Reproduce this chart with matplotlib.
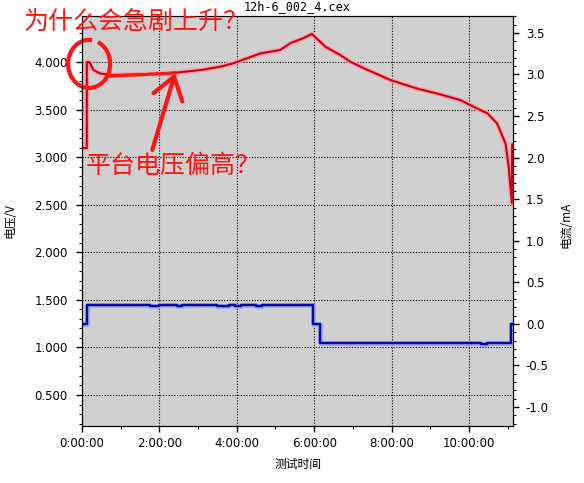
import matplotlib
matplotlib.use("Agg")
import matplotlib.pyplot as plt
from matplotlib.patches import Arc
from matplotlib.ticker import MultipleLocator, FuncFormatter

# voltage curve (left axis), time in hours
volt_t = [0.0, 0.13, 0.13, 0.2, 0.3, 0.47, 0.73, 1.5, 2.49, 3.06, 3.57, 3.91,
          4.61, 5.12, 5.38, 5.72, 5.94, 6.29, 6.67, 6.93, 7.36, 7.97, 8.66,
          9.25, 9.77, 10.11, 10.47, 10.72, 10.88, 10.94, 11.02, 11.10, 11.11]
volt_v = [3.095, 3.095, 4.0, 3.997, 3.916, 3.88, 3.863, 3.87, 3.89, 3.915, 3.95,
          3.986, 4.09, 4.126, 4.197, 4.25, 4.295, 4.16, 4.074, 4.003, 3.92,
          3.81, 3.72, 3.66, 3.6, 3.53, 3.46, 3.355, 3.2, 3.14, 2.9, 2.52, 3.13]

# current curve (right axis), step data
cur_t = [0.0, 0.13, 1.75, 2.0, 2.45, 2.6, 3.5, 3.8, 3.95, 4.1, 4.5, 4.65,
         5.05, 5.4, 5.96, 6.16, 10.3, 10.45, 11.09, 11.14]
cur_i = [0.0, 0.23, 0.22, 0.23, 0.22, 0.23, 0.22, 0.23, 0.22, 0.23, 0.22, 0.23,
         0.222, 0.23, 0.0, -0.23, -0.24, -0.23, 0.0, 0.0]

title = "12h-6_002_4.cex"
x_label = "测试时间"
left_label = "电压/V"
right_label = "电流/mA"
note_top = "为什么会急剧上升？"
note_mid = "平台电压偏高？"

cjk = ["Noto Sans CJK SC", "DejaVu Sans"]


def fmt_time(x, pos):
    return "%d:00:00" % int(round(x))


fig = plt.figure(figsize=(5.84, 4.83), dpi=100)
ax = fig.add_axes([0.14, 0.118, 0.739, 0.849])
ax.set_facecolor("#d0d0d0")
ax2 = ax.twinx()

# data
ax.plot(volt_t, volt_v, color="#ffa0a0", lw=3.4, solid_joinstyle="round")
ax.plot(volt_t, volt_v, color="#c8001e", lw=1.5, solid_joinstyle="round")
ax2.plot(cur_t, cur_i, color="#9aa0f0", lw=3.4, drawstyle="steps-post")
ax2.plot(cur_t, cur_i, color="#0a0aa0", lw=1.7, drawstyle="steps-post")

ax.set_xlim(0, 11.14)
ax.set_ylim(0.174, 4.484)
ax2.set_ylim(-1.228, 3.704)

ax.xaxis.set_major_locator(MultipleLocator(2))
ax.xaxis.set_minor_locator(MultipleLocator(1))
ax.xaxis.set_major_formatter(FuncFormatter(fmt_time))
ax.yaxis.set_major_locator(MultipleLocator(0.5))
ax.yaxis.set_minor_locator(MultipleLocator(0.1))
ax.yaxis.set_major_formatter(FuncFormatter(lambda v, p: "%.3f" % v))
ax2.yaxis.set_major_locator(MultipleLocator(0.5))
ax2.yaxis.set_minor_locator(MultipleLocator(0.1))
ax2.yaxis.set_major_formatter(FuncFormatter(lambda v, p: "%.1f" % v))

for a in (ax, ax2):
    a.tick_params(which="major", length=4, width=1, labelsize=8.5, direction="out")
    a.tick_params(which="minor", length=2.2, width=0.8, direction="out")
ax.tick_params(axis="y", pad=6)
ax.tick_params(axis="x", pad=4)
ax2.tick_params(axis="y", pad=5)

ax.grid(True, which="major", color="black", linestyle=(0, (1, 1.5)), lw=0.8)

ax.set_title(title, fontsize=8.5, pad=4, family="DejaVu Sans Mono")
ax.set_xlabel(x_label, family=cjk, fontsize=8.5)
ax.set_ylabel(left_label, family=cjk, fontsize=8.5)
ax2.set_ylabel(right_label, family=cjk, fontsize=8.5)
ax.xaxis.set_label_coords(0.5, -0.078)
ax.yaxis.set_label_coords(-0.152, 0.5)
ax2.yaxis.set_label_coords(1.108, 0.49)

# hand-drawn notes
red = "#ff1414"
circle = Arc((0.19, 3.98), 1.085, 0.505, theta1=72, theta2=405, color=red,
             lw=3, clip_on=False, zorder=5)
ax.add_patch(circle)
ax.plot([0.73, 1.6, 2.41], [3.853, 3.868, 3.884], color=red, lw=2.2, zorder=5)
ax.annotate("", xy=(2.41, 3.884), xytext=(1.82, 3.074),
            arrowprops=dict(arrowstyle="->,head_length=1.3,head_width=0.9",
                            color=red, lw=3, mutation_scale=12,
                            shrinkA=0, shrinkB=0), zorder=5)
fig.text(136 / 584, 1 - 23 / 483, note_top, color=red, fontsize=18,
         family=cjk, ha="center", va="center")
fig.text(173 / 584, 1 - 166 / 483, note_mid, color=red, fontsize=18,
         family=cjk, ha="center", va="center")

fig.savefig("out.png", dpi=100)
